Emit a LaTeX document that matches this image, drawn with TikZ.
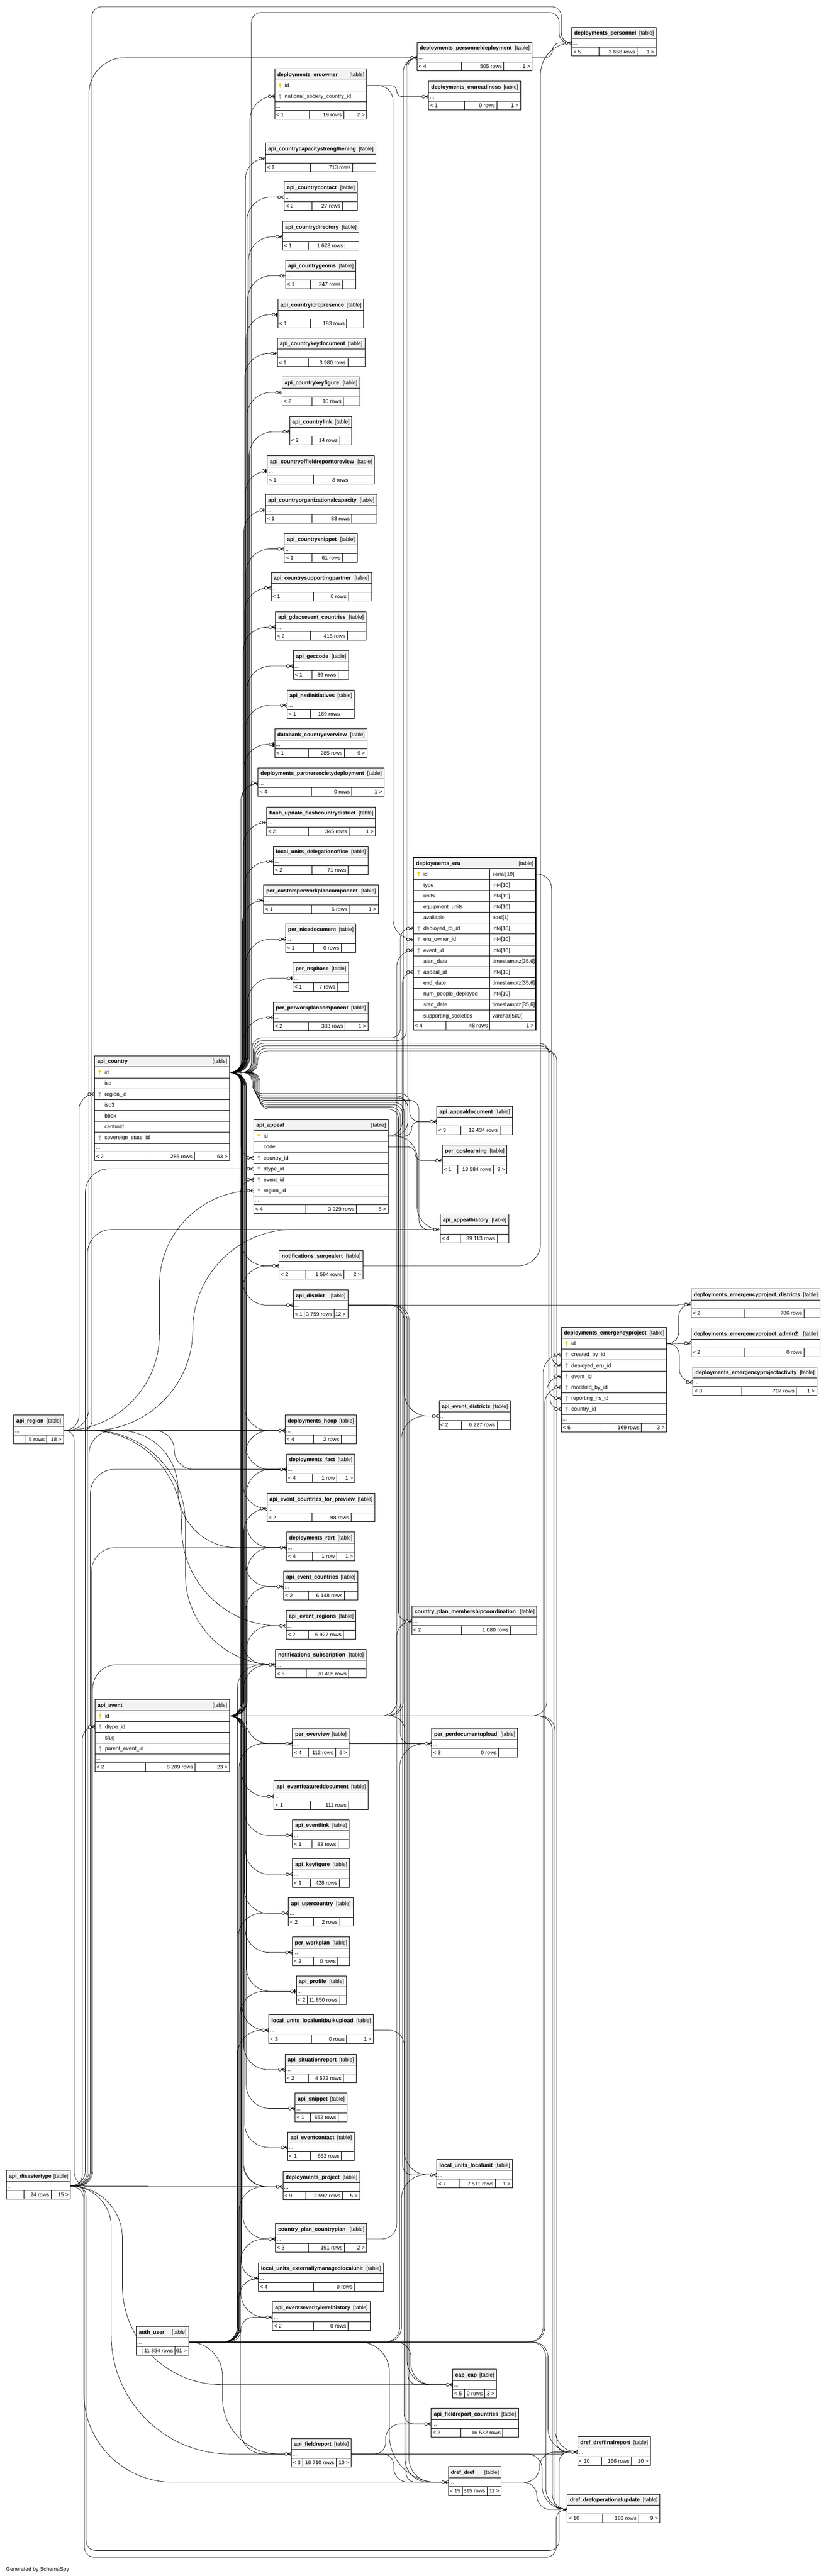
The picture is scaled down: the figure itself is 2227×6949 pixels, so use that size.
\documentclass[tikz,border=0pt]{standalone}
\usepackage{fontspec}
\setmainfont{Liberation Sans}
\usetikzlibrary{calc}
\definecolor{hdrgray}{HTML}{F2F2F2}
\definecolor{pkc}{HTML}{E6D200}
\definecolor{fkc}{HTML}{A8A8A8}
\pgfdeclarelayer{bg}
\pgfdeclarelayer{edges}
\pgfsetlayers{bg,edges,main}
\tikzset{
 conn/.style={line width=1pt, black},
 tb/.style={line width=1.1pt, black},
 mk/.style={line width=1.1pt, black},
 ttl/.style={font=\fontsize{14.5}{17}\selectfont\bfseries, inner sep=0pt},
 txt/.style={font=\fontsize{14.5}{17}\selectfont, inner sep=0pt},
}
% compact table: id x1 y1 x2 title s1 s2 f1 f2 f3
\def\ctable#1#2#3#4#5#6#7#8#9{\def\Tid{#1}\def\Tx{#2}\def\Ty{#3}\def\Tr{#4}\def\Tt{#5}\def\Ts{#6}\def\Tu{#7}\def\Fa{#8}\def\Fb{#9}\ctableB}
\def\ctableB#1{%
 \pgfmathsetmacro\Ya{\Ty+30}%
 \pgfmathsetmacro\Yb{\Ty+53.6}%
 \pgfmathsetmacro\Yc{\Ty+77.2}%
 \pgfmathsetmacro\TW{\Tr-\Tx}%
 \fill[white] (\Tx,\Ty) rectangle (\Tr,\Yc);
 \fill[hdrgray] (\Tx,\Ty) rectangle (\Tr,\Ya);
 \draw[tb] (\Tx,\Ya) -- (\Tr,\Ya) (\Tx,\Yb) -- (\Tr,\Yb) (\Ts,\Yb) -- (\Ts,\Yc) (\Tu,\Yb) -- (\Tu,\Yc);
 \node[ttl,anchor=base west] at ({\Tx+7},{\Ty+20.5}) {\Tt};
 \node[txt,anchor=base east] at ({\Tr-6},{\Ty+20.5}) {[table]};
 \node[txt,anchor=base west] at ({\Tx+3},{\Ty+47}) {...};
 \node[txt,anchor=base west] at ({\Tx+4},{\Ty+70.6}) {\Fa};
 \node[txt,anchor=base east] at ({\Tu-5},{\Ty+70.6}) {\Fb};
 \node[txt,anchor=base east] at ({\Tr-5},{\Ty+70.6}) {#1};
 \node[draw,tb,inner sep=0pt,outer sep=0pt,minimum width=\TW pt,minimum height=77.2pt,anchor=north west] (\Tid) at (\Tx,\Ty) {};
 \coordinate (\Tid-in) at (\Tx,{\Ty+41.8});
 \coordinate (\Tid-out) at (\Tr,{\Ty+41.8});
}
\newcommand\keyicon[3]{%
 \ifnum#1>0
  \ifnum#1=1 \def\kc{pkc}\else\def\kc{fkc}\fi
  \fill[\kc] ({#2},{#3-3}) circle (3.3pt);
  \draw[\kc,line width=1.7pt] ({#2},{#3-1}) -- ({#2},{#3+7});
  \draw[\kc,line width=1.3pt] ({#2},{#3+4}) -- ({#2+2.6},{#3+4});
 \fi}
\newcommand\xhead[6]{%
 \def\Tid{#1}\def\Tx{#2}\def\Ty{#3}\def\Tr{#4}%
 \fill[white] (#2,#3) rectangle (#4,{#3+#6});
 \fill[hdrgray] (#2,#3) rectangle (#4,{#3+30});
 \draw[tb] (#2,{#3+30}) -- (#4,{#3+30});
 \node[ttl,anchor=base west] at ({#2+7},{#3+20.5}) {#5};
 \node[txt,anchor=base east] at ({#4-6},{#3+20.5}) {[table]};
}
\newcommand\xrow[5]{%
 \pgfmathsetmacro\Ra{\Ty+30+29.4*#1}%
 \pgfmathsetmacro\Rm{\Ra+14.7}%
 \pgfmathsetmacro\Rb{\Ra+29.4}%
 \draw[tb] (\Tx,\Rb) -- (\Tr,\Rb);
 \node[txt,anchor=base west] at ({\Tx+27},{\Rm+5}) {#3};
 \node[txt,anchor=base west] at (1328,{\Rm+5}) {#4};
 \keyicon{#2}{\Tx+14}{\Rm}%
 \coordinate (\Tid-#5-in) at (\Tx,\Rm);
 \coordinate (\Tid-#5-out) at (\Tr,\Rm);
}
\newcommand\xfoot[7]{%
 \pgfmathsetmacro\Fa{\Ty+30+29.4*#1}%
 \ifnum#2=1
  \node[txt,anchor=base west] at ({\Tx+3},{\Fa+16.5}) {...};
  \pgfmathsetmacro\Fa{\Fa+23.6}%
  \draw[tb] (\Tx,\Fa) -- (\Tr,\Fa);
 \fi
 \pgfmathsetmacro\Fb{\Fa+23.6}%
 \draw[tb] (#3,\Fa) -- (#3,\Fb) (#4,\Fa) -- (#4,\Fb);
 \node[txt,anchor=base west] at ({\Tx+4},{\Fa+17}) {#5};
 \node[txt,anchor=base east] at ({#4-5},{\Fa+17}) {#6};
 \node[txt,anchor=base east] at ({\Tr-5},{\Fa+17}) {#7};
 \pgfmathsetmacro\TW{\Tr-\Tx}\pgfmathsetmacro\TH{\Fb-\Ty}%
 \node[draw,tb,inner sep=0pt,outer sep=0pt,minimum width=\TW pt,minimum height=\TH pt,anchor=north west] (\Tid) at (\Tx,\Ty) {};
}
% connector: parent, child, channel x, radius; circular-ish corners, larger at child end
\newcommand\fk[4]{%
 \draw[conn] let \p1=(#1), \p2=(#2),
   \n1={#3},
   \n2={(\y2>\y1)?1:-1},
   \n3={max(0.5,min(#4,abs(\y2-\y1)/2,\n1-\x1))},
   \n4={max(0.5,min(1.6*#4,abs(\y2-\y1)/2,\x2-\n1))}
 in (\p1) -- ({(\n1-\n3)*1pt},\y1)
   .. controls ({(\n1-0.45*\n3)*1pt},\y1) and ({\n1*1pt},{\y1+(\n2)*0.45*\n3*1pt}) .. ({\n1*1pt},{\y1+(\n2)*\n3*1pt})
   -- ({\n1*1pt},{\y2-(\n2)*\n4*1pt})
   .. controls ({\n1*1pt},{\y2-(\n2)*0.45*\n4*1pt}) and ({(\n1+0.45*\n4)*1pt},\y2) .. ({(\n1+\n4)*1pt},\y2) -- (\p2);}
% two-channel connector: parent, child, channel 1 x, middle y, channel 2 x
\newcommand\fkk[5]{%
 \draw[conn,rounded corners=26pt] let \p2=(#2) in (#1) -| (#3,#4) -| ({#5*1pt},\y2) -- (#2);}
\newcommand\crowmk[1]{%
 \draw[mk] ([xshift=-10pt]#1) -- ([yshift=5pt]#1) ([xshift=-10pt]#1) -- (#1) ([xshift=-10pt]#1) -- ([yshift=-5pt]#1);
 \draw[mk,fill=white] ([xshift=-14pt]#1) circle (4pt);}
\newcommand\teemk[1]{%
 \draw[line width=2.8pt] ([xshift=-4pt,yshift=-5.5pt]#1) -- ([xshift=-4pt,yshift=5.5pt]#1);
 \draw[mk,fill=white] ([xshift=-11pt]#1) circle (4pt);}
\begin{document}
\begin{tikzpicture}[x=1pt,y=-1pt]
\begin{pgfonlayer}{bg}
\fill[white] (0,0) rectangle (2227,6949);
\end{pgfonlayer}
\useasboundingbox (0,0) rectangle (2227,6949);
% ---------------- tables ----------------
\ctable{pdep}{1125}{114}{1435}{deployments\_personneldeployment}{1245}{1359}{< 4}{505 rows}{1 >}
\ctable{pers}{1542}{74}{1770}{deployments\_personnel}{1615}{1718}{< 5}{3 658 rows}{1 >}
\ctable{erur}{1156}{219}{1404}{deployments\_erureadiness}{1253}{1340}{< 1}{0 rows}{1 >}
\ctable{ccap}{716}{386}{1014}{api\_countrycapacitystrengthening}{837}{951}{< 1}{713 rows}{}
\ctable{ccon}{767}{490}{963}{api\_countrycontact}{841}{923}{< 2}{27 rows}{}
\ctable{cdir}{762}{597}{968}{api\_countrydirectory}{831}{931}{< 1}{1 628 rows}{}
\ctable{cgeo}{770}{702}{960}{api\_countrygeoms}{837}{924}{< 1}{247 rows}{}
\ctable{cicrc}{749}{807}{981}{api\_countryicrcpresence}{837}{935}{< 1}{183 rows}{}
\ctable{ckdoc}{748}{912}{984}{api\_countrykeydocument}{832}{938}{< 1}{3 980 rows}{}
\ctable{ckfig}{761}{1017}{970}{api\_countrykeyfigure}{841}{926}{< 2}{10 rows}{}
\ctable{clink}{781}{1123}{949}{api\_countrylink}{841}{916}{< 2}{14 rows}{}
\ctable{cofr}{721}{1229}{1010}{api\_countryoffieldreporttoreview}{845}{944}{< 1}{8 rows}{}
\ctable{corg}{716}{1334}{1016}{api\_countryorganizationalcapacity}{841}{949}{< 1}{33 rows}{}
\ctable{csnip}{767}{1439}{963}{api\_countrysnippet}{841}{924}{< 1}{61 rows}{}
\ctable{csup}{731}{1544}{1002}{api\_countrysupportingpartner}{845}{940}{< 1}{0 rows}{}
\ctable{gdacs}{743}{1650}{987}{api\_gdacsevent\_countries}{837}{937}{< 2}{415 rows}{}
\ctable{gecc}{791}{1755}{940}{api\_geccode}{841}{912}{< 1}{39 rows}{}
\ctable{nsdi}{774}{1861}{956}{api\_nsdinitiatives}{837}{922}{< 1}{169 rows}{}
\ctable{dbco}{741}{1966}{990}{databank\_countryoverview}{831}{929}{< 1}{285 rows}{9 >}
\ctable{psd}{696}{2071}{1036}{deployments\_partnersocietydeployment}{840}{949}{< 4}{0 rows}{1 >}
\ctable{fucd}{719}{2177}{1013}{flash\_update\_flashcountrydistrict}{832}{941}{< 2}{345 rows}{1 >}
\ctable{ludo}{737}{2282}{993}{local\_units\_delegationoffice}{841}{939}{< 2}{71 rows}{}
\ctable{pcwc}{711}{2387}{1020}{per\_customperworkplancomponent}{840}{942}{< 1}{6 rows}{1 >}
\ctable{pnice}{770}{2492}{960}{per\_nicedocument}{845}{920}{< 1}{0 rows}{}
\ctable{pnsp}{790}{2597}{940}{per\_nsphase}{845}{909}{< 1}{7 rows}{}
\ctable{ppwc}{737}{2703}{993}{per\_perworkplancomponent}{831}{931}{< 2}{383 rows}{1 >}
\ctable{appdoc}{1178}{2984}{1382}{api\_appealdocument}{1243}{1348}{< 3}{12 434 rows}{}
\ctable{opsl}{1193}{3089}{1367}{per\_opslearning}{1235}{1331}{< 1}{13 584 rows}{9 >}
\ctable{apph}{1187}{3275}{1372}{api\_appealhistory}{1241}{1341}{< 4}{39 113 rows}{}
\ctable{surge}{753}{3373}{979}{notifications\_surgealert}{825}{927}{< 2}{1 594 rows}{2 >}
\ctable{dist}{791}{3479}{938}{api\_district}{821}{901}{< 1}{3 759 rows}{12 >}
\ctable{heop}{769}{3817}{961}{deployments\_heop}{845}{920}{< 4}{2 rows}{}
\ctable{fact}{773}{3922}{957}{deployments\_fact}{843}{908}{< 4}{1 row}{1 >}
\ctable{ecfp}{720}{4028}{1011}{api\_event\_countries\_for\_preview}{841}{947}{< 2}{98 rows}{}
\ctable{rdrt}{773}{4133}{957}{deployments\_rdrt}{843}{908}{< 4}{1 row}{1 >}
\ctable{evc}{765}{4238}{965}{api\_event\_countries}{831}{929}{< 2}{6 148 rows}{}
\ctable{evr}{772}{4344}{960}{api\_event\_regions}{832}{926}{< 2}{5 927 rows}{}
\ctable{nsub}{743}{4449}{987}{notifications\_subscription}{826}{940}{< 5}{20 495 rows}{}
\ctable{pov}{789}{4662}{941}{per\_overview}{831}{905}{< 4}{112 rows}{6 >}
\ctable{efd}{739}{4804}{993}{api\_eventfeatureddocument}{837}{940}{< 1}{111 rows}{}
\ctable{evd}{1184}{3778}{1376}{api\_event\_districts}{1245}{1341}{< 2}{6 227 rows}{}
\ctable{cpmc}{1111}{4332}{1448}{country\_plan\_membershipcoordination}{1245}{1377}{< 2}{1 080 rows}{}
\ctable{ppdu}{1164}{4662}{1396}{per\_perdocumentupload}{1260}{1345}{< 3}{0 rows}{}
\ctable{evl}{789}{4909}{942}{api\_eventlink}{841}{912}{< 1}{83 rows}{}
\ctable{kfig}{789}{5014}{943}{api\_keyfigure}{837}{915}{< 1}{428 rows}{}
\ctable{ucty}{778}{5119}{952}{api\_usercountry}{845}{916}{< 2}{2 rows}{}
\ctable{pwp}{788}{5225}{943}{per\_workplan}{845}{911}{< 2}{0 rows}{}
\ctable{prof}{799}{5330}{934}{api\_profile}{829}{916}{< 2}{11 850 rows}{}
\ctable{lubu}{725}{5435}{1007}{local\_units\_localunitbulkupload}{840}{935}{< 3}{0 rows}{1 >}
\ctable{sitr}{769}{5541}{961}{api\_situationreport}{831}{926}{< 2}{4 572 rows}{}
\ctable{snip}{796}{5646}{936}{api\_snippet}{837}{912}{< 1}{652 rows}{}
\ctable{evct}{776}{5751}{955}{api\_eventcontact}{837}{921}{< 1}{652 rows}{}
\ctable{proj}{763}{5857}{970}{deployments\_project}{825}{923}{< 9}{2 592 rows}{5 >}
\ctable{cpcp}{743}{5998}{989}{country\_plan\_countryplan}{832}{929}{< 3}{191 rows}{2 >}
\ctable{lueml}{697}{6104}{1034}{local\_units\_externallymanagedlocalunit}{846}{956}{< 4}{0 rows}{}
\ctable{esh}{735}{6209}{998}{api\_eventseveritylevelhistory}{846}{939}{< 2}{0 rows}{}
\ctable{lulu}{1178}{5825}{1382}{local\_units\_localunit}{1240}{1336}{< 7}{7 511 rows}{1 >}
\ctable{fr}{786}{6578}{947}{api\_fieldreport}{817}{907}{< 3}{16 710 rows}{10 >}
\ctable{eap}{1221}{6391}{1339}{eap\_eap}{1253}{1307}{< 5}{0 rows}{3 >}
\ctable{frc}{1163}{6497}{1398}{api\_fieldreport\_countries}{1243}{1356}{< 2}{16 532 rows}{}
\ctable{dref}{1209}{6654}{1352}{dref\_dref}{1247}{1314}{< 15}{315 rows}{11 >}
\ctable{drfr}{1558}{6573}{1754}{dref\_dreffinalreport}{1622}{1703}{< 10}{166 rows}{10 >}
\ctable{drou}{1530}{6728}{1780}{dref\_drefoperationalupdate}{1625}{1722}{< 10}{182 rows}{9 >}
\ctable{epd}{1864}{3477}{2212}{deployments\_emergencyproject\_districts}{2009}{2169}{< 2}{786 rows}{}
\ctable{epa}{1864}{3582}{2212}{deployments\_emergencyproject\_admin2}{2009}{2169}{< 2}{0 rows}{}
\ctable{epact}{1869}{3687}{2203}{deployments\_emergencyprojectactivity}{2001}{2148}{< 3}{707 rows}{1 >}
\ctable{reg}{37}{3817}{171}{api\_region}{67}{126}{}{5 rows}{18 >}
\ctable{dtyp}{17}{5855}{190}{api\_disastertype}{64}{138}{}{24 rows}{15 >}
\ctable{au}{367}{6276}{509}{auth\_user}{385}{472}{}{11 854 rows}{61 >}
% expanded tables
\xhead{eo}{741}{186}{989}{deployments\_eruowner}{136}
\xrow{0}{1}{id}{}{id}
\xrow{1}{2}{national\_society\_country\_id}{}{nsc}
\xfoot{2}{1}{835}{927}{< 1}{19 rows}{2 >}
\xhead{C}{255}{2848}{619}{api\_country}{283}
\xrow{0}{1}{id}{}{id}
\xrow{1}{0}{iso}{}{iso}
\xrow{2}{2}{region\_id}{}{rid}
\xrow{3}{0}{iso3}{}{iso3}
\xrow{4}{0}{bbox}{}{bbox}
\xrow{5}{0}{centroid}{}{cen}
\xrow{6}{2}{sovereign\_state\_id}{}{sov}
\xfoot{7}{1}{399}{524}{< 2}{285 rows}{63 >}
\xhead{A}{684}{3020}{1047}{api\_appeal}{253.6}
\xrow{0}{1}{id}{}{id}
\xrow{1}{0}{code}{}{code}
\xrow{2}{2}{country\_id}{}{cid}
\xrow{3}{2}{dtype\_id}{}{did}
\xrow{4}{2}{event\_id}{}{eid}
\xrow{5}{2}{region\_id}{}{rid}
\xfoot{6}{1}{825}{961}{< 4}{3 929 rows}{5 >}
\xhead{E}{256}{4584}{619}{api\_event}{194.8}
\xrow{0}{1}{id}{}{id}
\xrow{1}{2}{dtype\_id}{}{did}
\xrow{2}{0}{slug}{}{slug}
\xrow{3}{2}{parent\_event\_id}{}{pid}
\xfoot{4}{1}{392}{526}{< 2}{8 209 rows}{23 >}
\xhead{ep}{1514}{3580}{1798}{deployments\_emergencyproject}{283}
\xrow{0}{1}{id}{}{id}
\xrow{1}{2}{created\_by\_id}{}{cb}
\xrow{2}{2}{deployed\_eru\_id}{}{de}
\xrow{3}{2}{event\_id}{}{eid}
\xrow{4}{2}{modified\_by\_id}{}{mb}
\xrow{5}{2}{reporting\_ns\_id}{}{rns}
\xrow{6}{2}{country\_id}{}{cid}
\xfoot{7}{1}{1621}{1730}{< 6}{169 rows}{3 >}
\xhead{eru}{1115}{2313}{1445}{deployments\_eru}{465.2}
\xrow{0}{1}{id}{serial[10]}{id}
\xrow{1}{0}{type}{int4[10]}{type}
\xrow{2}{0}{units}{int4[10]}{units}
\xrow{3}{0}{equipment\_units}{int4[10]}{equ}
\xrow{4}{0}{available}{bool[1]}{avail}
\xrow{5}{2}{deployed\_to\_id}{int4[10]}{dep}
\xrow{6}{2}{eru\_owner\_id}{int4[10]}{own}
\xrow{7}{2}{event\_id}{int4[10]}{eid}
\xrow{8}{0}{alert\_date}{timestamptz[35,6]}{alert}
\xrow{9}{2}{appeal\_id}{int4[10]}{aid}
\xrow{10}{0}{end\_date}{timestamptz[35,6]}{end}
\xrow{11}{0}{num\_people\_deployed}{int4[10]}{num}
\xrow{12}{0}{start\_date}{timestamptz[35,6]}{start}
\xrow{13}{0}{supporting\_societies}{varchar[500]}{sup}
\xfoot{14}{0}{1203}{1321}{< 4}{48 rows}{1 >}
\draw[tb] (1321,2343) -- (1321,2755);
\draw[line width=2.6pt] (1115,2313) rectangle (1445,2778.2);
\node[txt,anchor=base west] (gen) at (16,6936) {Generated by SchemaSpy};
% ---------------- connectors ----------------
\begin{pgfonlayer}{edges}
% api_country to the middle column
\fk{C-id-out}{ccap-in}{662}{40}
\fk{C-id-out}{ccon-in}{666}{40}
\fk{C-id-out}{cdir-in}{670}{40}
\fk{C-id-out}{cgeo-in}{668}{40}
\fk{C-id-out}{cicrc-in}{664}{40}
\fk{C-id-out}{ckdoc-in}{660}{40}
\fk{C-id-out}{ckfig-in}{666}{40}
\fk{C-id-out}{clink-in}{672}{40}
\fk{C-id-out}{cofr-in}{662}{40}
\fk{C-id-out}{corg-in}{658}{40}
\fk{C-id-out}{csnip-in}{664}{40}
\fk{C-id-out}{csup-in}{660}{40}
\fk{C-id-out}{gdacs-in}{656}{40}
\fk{C-id-out}{gecc-in}{666}{40}
\fk{C-id-out}{nsdi-in}{662}{40}
\fk{C-id-out}{dbco-in}{658}{40}
\fk{C-id-out}{psd-in}{652}{40}
\fk{C-id-out}{fucd-in}{656}{40}
\fk{C-id-out}{ludo-in}{660}{40}
\fk{C-id-out}{pcwc-in}{654}{40}
\fk{C-id-out}{pnice-in}{664}{40}
\fk{C-id-out}{pnsp-in}{668}{40}
\fk{C-id-out}{ppwc-in}{658}{40}
\fk{C-id-out}{eo-nsc-in}{674}{40}
\fk{C-id-out}{A-cid-in}{650}{40}
\fk{C-id-out}{surge-in}{652}{40}
\fk{C-id-out}{dist-in}{655}{40}
\fk{C-id-out}{heop-in}{660}{40}
\fk{C-id-out}{fact-in}{663}{40}
\fk{C-id-out}{ecfp-in}{656}{40}
\fk{C-id-out}{rdrt-in}{665}{40}
\fk{C-id-out}{evc-in}{661}{40}
\fk{C-id-out}{nsub-in}{654}{40}
\fk{C-id-out}{pov-in}{663}{40}
\fk{C-id-out}{ucty-in}{659}{40}
\fk{C-id-out}{pwp-in}{661}{40}
\fk{C-id-out}{prof-in}{665}{40}
\fk{C-id-out}{lubu-in}{653}{40}
\fk{C-id-out}{proj-in}{657}{40}
\fk{C-id-out}{cpcp-in}{655}{40}
\fk{C-id-out}{lueml-in}{651}{40}
% api_country to the right, spread over separate runs
\fkk{C-id-out}{eru-dep-in}{680}{2800}{1080}
\fkk{C-id-out}{pdep-in}{683}{2807}{1096}
\fkk{C-id-out}{ep-rns-in}{686}{2814}{1480}
\fkk{C-id-out}{ep-cid-in}{689}{2821}{1484}
\fkk{C-id-out}{drou-in}{692}{2828}{1494}
\fkk{C-id-out}{drfr-in}{695}{2835}{1502}
\fkk{C-id-out}{appdoc-in}{680}{2950}{1105}
\fkk{C-id-out}{dref-in}{683}{2956}{1095}
\fkk{C-id-out}{eap-in}{686}{2962}{1100}
\fkk{C-id-out}{apph-in}{689}{2968}{1130}
\fkk{C-id-out}{frc-in}{692}{2974}{1090}
\fkk{C-id-out}{lulu-in}{695}{2980}{1086}
\fkk{C-id-out}{ppdu-in}{698}{2986}{1080}
\fkk{C-id-out}{cpmc-in}{701}{2992}{1075}
\fkk{C-id-out}{pers-in}{678}{34}{1508}
% api_region
\fk{reg-out}{C-rid-in}{213}{40}
\fk{reg-out}{A-rid-in}{430}{260}
\fk{reg-out}{apph-in}{520}{300}
\fk{reg-out}{heop-in}{470}{40}
\fk{reg-out}{fact-in}{470}{200}
\fk{reg-out}{rdrt-in}{480}{200}
\fk{reg-out}{evr-in}{490}{250}
\fk{reg-out}{nsub-in}{500}{250}
\fk{reg-out}{proj-in}{200}{25}
\fk{reg-out}{pdep-in}{240}{60}
\fkk{reg-out}{pers-in}{248}{18}{1514}
% api_disastertype
\fk{dtyp-out}{E-did-in}{222}{30}
\fk{dtyp-out}{A-did-in}{230}{40}
\fk{dtyp-out}{apph-in}{236}{40}
\fk{dtyp-out}{heop-in}{240}{40}
\fk{dtyp-out}{fact-in}{244}{40}
\fk{dtyp-out}{rdrt-in}{247}{40}
\fk{dtyp-out}{nsub-in}{250}{40}
\fk{dtyp-out}{proj-in}{400}{40}
\fk{dtyp-out}{fr-in}{300}{200}
\fk{dtyp-out}{eap-in}{330}{200}
\fk{dtyp-out}{dref-in}{226}{150}
\fkk{dtyp-out}{drfr-in}{232}{6880}{1508}
\fkk{dtyp-out}{drou-in}{228}{6898}{1500}
% api_event
\fk{E-id-out}{A-eid-in}{648}{40}
\fk{E-id-out}{psd-in}{650}{40}
\fk{E-id-out}{surge-in}{654}{40}
\fk{E-id-out}{heop-in}{662}{40}
\fk{E-id-out}{fact-in}{665}{40}
\fk{E-id-out}{ecfp-in}{658}{40}
\fk{E-id-out}{rdrt-in}{667}{40}
\fk{E-id-out}{evc-in}{663}{40}
\fk{E-id-out}{evr-in}{665}{40}
\fk{E-id-out}{nsub-in}{657}{40}
\fk{E-id-out}{efd-in}{652}{40}
\fk{E-id-out}{evl-in}{660}{40}
\fk{E-id-out}{kfig-in}{662}{40}
\fk{E-id-out}{sitr-in}{658}{40}
\fk{E-id-out}{snip-in}{664}{40}
\fk{E-id-out}{evct-in}{660}{40}
\fk{E-id-out}{proj-in}{655}{40}
\fk{E-id-out}{esh-in}{650}{40}
\fk{E-id-out}{fr-in}{648}{40}
\fk{E-id-out}{eru-eid-in}{1070}{40}
\fk{E-id-out}{pdep-in}{1088}{40}
\fk{E-id-out}{evd-in}{1082}{40}
\fk{E-id-out}{dref-in}{1092}{40}
\fk{E-id-out}{ep-eid-in}{1475}{40}
\fk{E-id-out}{drfr-in}{1497}{40}
\fk{E-id-out}{drou-in}{1490}{40}
% auth_user
\fk{au-out}{nsub-in}{640}{40}
\fk{au-out}{pov-in}{645}{40}
\fk{au-out}{ucty-in}{643}{40}
\fk{au-out}{prof-in}{647}{40}
\fk{au-out}{lubu-in}{641}{40}
\fk{au-out}{proj-in}{645}{40}
\fk{au-out}{cpcp-in}{648}{40}
\fk{au-out}{lueml-in}{644}{40}
\fk{au-out}{esh-in}{650}{40}
\fk{au-out}{fr-in}{600}{150}
\fk{au-out}{ppdu-in}{1078}{40}
\fk{au-out}{lulu-in}{1083}{40}
\fk{au-out}{eap-in}{1108}{40}
\fk{au-out}{dref-in}{1050}{80}
\fk{au-out}{ep-cb-in}{1465}{40}
\fk{au-out}{ep-mb-in}{1469}{40}
\fk{au-out}{drfr-in}{1478}{40}
\fk{au-out}{drou-in}{1472}{40}
% api_district
\fk{dist-out}{evd-in}{1090}{40}
\fk{dist-out}{epd-in}{1830}{10}
\fk{dist-out}{eap-in}{1098}{40}
\fk{dist-out}{dref-in}{1103}{40}
% api_appeal
\fk{A-id-out}{appdoc-in}{1110}{30}
\fk{A-id-out}{apph-in}{1125}{60}
\fk{A-code-out}{opsl-in}{1120}{20}
\fk{A-id-out}{eru-aid-in}{1085}{40}
\fk{A-id-out}{pdep-in}{1100}{40}
% others
\fk{eo-id-out}{erur-in}{1070}{15}
\fk{eo-id-out}{eru-own-in}{1060}{40}
\fk{eru-id-out}{ep-de-in}{1488}{40}
\fk{pdep-out}{pers-in}{1490}{20}
\fk{surge-out}{pers-in}{1458}{60}
\fk{ep-id-out}{epd-in}{1830}{30}
\fk{ep-id-out}{epa-in}{1830}{30}
\fk{ep-id-out}{epact-in}{1832}{30}
\fk{fr-out}{frc-in}{1040}{30}
\fk{fr-out}{dref-in}{1062}{30}
\fk{fr-out}{drfr-in}{1520}{30}
\fk{fr-out}{drou-in}{1462}{40}
\fk{dref-out}{drfr-in}{1455}{40}
\fk{dref-out}{drou-in}{1448}{40}
\fk{lubu-out}{lulu-in}{1090}{40}
\fk{cpcp-out}{cpmc-in}{1070}{40}
\fk{pov-out}{ppdu-in}{1050}{40}
\end{pgfonlayer}
% ---------------- markers ----------------
\foreach \p in {ccap-in,ccon-in,cdir-in,ckdoc-in,ckfig-in,clink-in,csnip-in,csup-in,gdacs-in,gecc-in,nsdi-in,psd-in,fucd-in,ludo-in,pcwc-in,pnice-in,ppwc-in,eo-nsc-in,eru-dep-in,eru-own-in,eru-eid-in,eru-aid-in,pdep-in,pers-in,erur-in,A-cid-in,A-did-in,A-eid-in,A-rid-in,appdoc-in,opsl-in,apph-in,surge-in,dist-in,heop-in,fact-in,ecfp-in,rdrt-in,evc-in,evr-in,nsub-in,pov-in,efd-in,evd-in,cpmc-in,ppdu-in,evl-in,kfig-in,ucty-in,pwp-in,lubu-in,sitr-in,snip-in,evct-in,proj-in,cpcp-in,lueml-in,esh-in,lulu-in,fr-in,eap-in,frc-in,dref-in,drfr-in,drou-in,epd-in,epa-in,epact-in,ep-cb-in,ep-de-in,ep-eid-in,ep-mb-in,ep-rns-in,ep-cid-in,C-rid-in,E-did-in}{\crowmk{\p}}
\foreach \p in {cgeo-in,cicrc-in,cofr-in,corg-in,dbco-in,pnsp-in,prof-in}{\teemk{\p}}
\end{tikzpicture}
\end{document}
